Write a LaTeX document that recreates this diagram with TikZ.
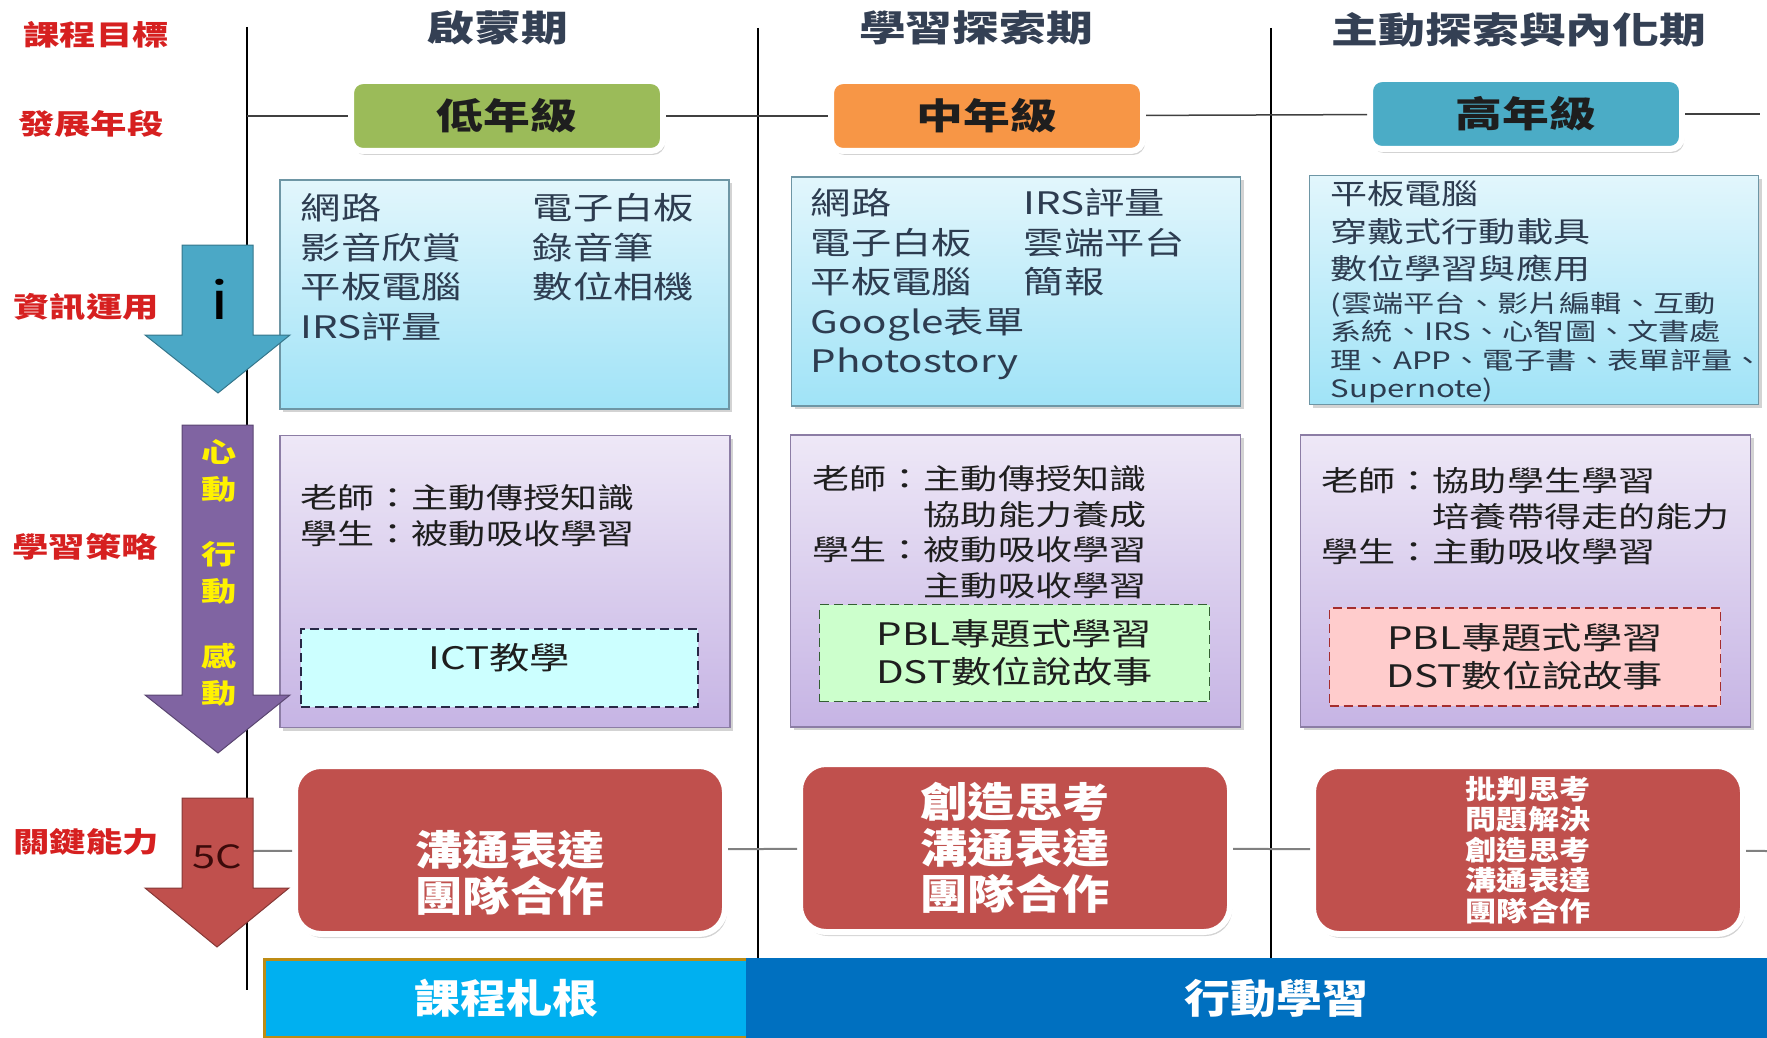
\documentclass[tikz,border=0pt]{standalone}
\usepackage{fontspec}
\setmainfont{Noto Sans CJK TC}[FakeStretch=1.3]
\newfontfamily\tallfont{Noto Sans CJK TC}[FakeStretch=1.15]
\usetikzlibrary{shadows}
\tikzset{every picture/.style={line width=1.5pt}}

\definecolor{rowred}{RGB}{214,32,32}
\definecolor{headgray}{RGB}{52,64,84}
\definecolor{lowgreen}{RGB}{155,187,89}
\definecolor{midorange}{RGB}{247,150,70}
\definecolor{highteal}{RGB}{75,172,198}
\definecolor{skillred}{RGB}{192,80,77}
\definecolor{infotop}{RGB}{226,246,252}
\definecolor{infobot}{RGB}{160,227,247}
\definecolor{infoedge}{RGB}{110,150,165}
\definecolor{infoink}{RGB}{45,60,80}
\definecolor{stratop}{RGB}{238,232,247}
\definecolor{strabot}{RGB}{198,180,228}
\definecolor{stratedge}{RGB}{140,125,165}
\definecolor{stratink}{RGB}{30,30,30}
\definecolor{ictcyan}{RGB}{204,255,255}
\definecolor{pblgreen}{RGB}{204,255,204}
\definecolor{pblpink}{RGB}{255,204,204}
\definecolor{greenink}{RGB}{50,95,50}
\definecolor{redink}{RGB}{165,45,45}
\definecolor{dashink}{RGB}{40,40,70}
\definecolor{arrowblue}{RGB}{75,168,198}
\definecolor{arrowpurple}{RGB}{128,100,162}
\definecolor{fivecink}{RGB}{60,10,10}
\definecolor{rootblue}{RGB}{0,176,240}
\definecolor{mobileblue}{RGB}{0,112,192}
\definecolor{rootgold}{RGB}{190,140,20}

\tikzset{
  rowlabel/.style={text=rowred,font=\fontsize{28}{30}\selectfont\bfseries},
  stagehead/.style={text=headgray,font=\fontsize{36}{40}\selectfont\bfseries},
  gradebox/.style={draw=white,line width=6pt,rounded corners=12pt,minimum width=312pt,minimum height=70pt,
    text=stratink,font=\fontsize{36}{40}\selectfont\bfseries,
    drop shadow={shadow xshift=2pt,shadow yshift=-4pt,opacity=0.35}},
  infobox/.style={draw=infoedge,line width=1.2pt,top color=infotop,bottom color=infobot,
    minimum width=449pt,minimum height=229pt,drop shadow={shadow xshift=3pt,shadow yshift=-3pt,opacity=0.35}},
  stratbox/.style={draw=stratedge,line width=1.2pt,top color=stratop,bottom color=strabot,
    minimum width=450pt,minimum height=292pt,drop shadow={shadow xshift=3pt,shadow yshift=-3pt,opacity=0.35}},
  infotext/.style={anchor=north west,inner sep=0pt,align=left,text=infoink,font=\fontsize{31}{39.5}\selectfont},
  strattext/.style={anchor=north west,inner sep=0pt,align=left,text=stratink,font=\fontsize{28.5}{35.5}\selectfont},
  dashbox/.style={dashed,dash pattern=on 9pt off 5pt,line width=1.5pt,align=center,text=stratink,
    font=\fontsize{31}{38}\selectfont},
  skillbox/.style={fill=skillred,draw=white,line width=6pt,rounded corners=26pt,minimum width=430pt,
    minimum height=168pt,align=center,text=white,drop shadow={shadow xshift=2pt,shadow yshift=-4pt,opacity=0.35}},
  bigskill/.style={font=\tallfont\fontsize{41}{46}\selectfont\bfseries},
  gridline/.style={draw=black,line width=1.5pt},
  rowline/.style={draw=black!75,line width=1.5pt},
  skillline/.style={draw=black!50,line width=2pt},
}

\begin{document}
\begin{tikzpicture}[x=1pt,y=1pt,yscale=-1,xscale=1]
	\useasboundingbox (0,0) rectangle (1767,1038);
	
	% column rules
	\coordinate (v1top) at (247,27);
	\coordinate (v1bot) at (247,990);
	\coordinate (v2top) at (758,28);
	\coordinate (v2bot) at (758,958);
	\coordinate (v3top) at (1271,28);
	\coordinate (v3bot) at (1271,958);
	\draw [gridline] (v1top) -- (v1bot);
	\draw [gridline] (v2top) -- (v2bot);
	\draw [gridline] (v3top) -- (v3bot);
	
	% Text Node: row labels
	\node [rowlabel] (goal) at (96,35) {課程目標};
	\node [rowlabel] (age) at (91,124) {發展年段};
	\node [rowlabel] (ict) at (86,307) {資訊運用};
	\node [rowlabel] (strategy) at (85,547) {學習策略};
	\node [rowlabel] (skill) at (86,842) {關鍵能力};
	
	% Text Node: stage titles
	\node [stagehead] (h1) at (498,28) {啟蒙期};
	\node [stagehead] (h2) at (976,28) {學習探索期};
	\node [stagehead] (h3) at (1519,30) {主動探索與內化期};
	
	%Shape: grade boxes
	\node [gradebox,fill=lowgreen] (g1) at (507,116) {低年級};
	\node [gradebox,fill=midorange] (g2) at (987,116) {中年級};
	\node [gradebox,fill=highteal] (g3) at (1526,114) {高年級};
	\coordinate (rowage) at (247,116);
	\coordinate (rowageend) at (1760,114);
	\draw [rowline] (rowage) -- (g1);
	\draw [rowline] (g1) -- (g2);
	\draw [rowline] (g2) -- (g3);
	\draw [rowline] (g3) -- (rowageend);
	
	%Shape: ICT boxes
	\node [infobox] (b1) at (504.5,294.5) {};
	\node [infobox] (b2) at (1016,291.5) {};
	\node [infobox] (b3) at (1534,290) {};
	\node [infotext] (b1l) at (300,193) {網路\\影音欣賞\\平板電腦\\IRS評量};
	\node [infotext] (b1r) at (532,193) {電子白板\\錄音筆\\數位相機};
	\node [infotext] (b2l) at (810,188) {網路\\電子白板\\平板電腦\\Google表單\\Photostory};
	\node [infotext] (b2r) at (1023,188) {IRS評量\\雲端平台\\簡報};
	\node [infotext,font=\fontsize{28.5}{37.5}\selectfont] (b3a) at (1330,180) {平板電腦\\穿戴式行動載具\\數位學習與應用};
	\node [infotext,font=\fontsize{24}{28.5}\selectfont] (b3b) at (1330,291) {(雲端平台、影片編輯、互動\\系統、IRS、心智圖、文書處\\理、APP、電子書、表單評量、\\Supernote)};
	
	%Shape: strategy boxes
	\node [stratbox] (s1) at (505,581.5) {};
	\node [stratbox] (s2) at (1015.5,581) {};
	\node [stratbox] (s3) at (1525.5,581) {};
	\node [strattext] (s1t) at (300,484) {老師：主動傳授知識\\學生：被動吸收學習};
	\node [strattext] (s2t) at (812,465) {老師：主動傳授知識\\\phantom{老師：}協助能力養成\\學生：被動吸收學習\\\phantom{老師：}主動吸收學習};
	\node [strattext] (s3t) at (1321,467) {老師：協助學生學習\\\phantom{老師：}培養帶得走的能力\\學生：主動吸收學習};
	\node [dashbox,draw=dashink,fill=ictcyan,minimum width=397pt,minimum height=78pt,text height=27pt,text depth=25pt] (d1) at (499.5,668) {ICT教學};
	\node [dashbox,draw=greenink,fill=pblgreen,minimum width=390pt,minimum height=97pt] (d2) at (1014.5,653) {PBL專題式學習\\DST數位說故事};
	\node [dashbox,draw=redink,fill=pblpink,minimum width=391pt,minimum height=98pt] (d3) at (1525,657) {PBL專題式學習\\DST數位說故事};
	
	%Shape: key skill boxes
	\node [skillbox,bigskill] (r1) at (510,850) {\phantom{溝}\\溝通表達\\團隊合作};
	\node [skillbox,bigskill] (r2) at (1015,848) {創造思考\\溝通表達\\團隊合作};
	\node [skillbox,font=\tallfont\fontsize{27}{30.5}\selectfont\bfseries] (r3) at (1528,850) {批判思考\\問題解決\\創造思考\\溝通表達\\團隊合作};
	\coordinate (rowskill) at (253,851);
	\coordinate (rowskillend) at (1767,851);
	\draw [skillline] (rowskill) -- (r1);
	\draw [skillline] (r1) -- (r2);
	\draw [skillline] (r2) -- (r3);
	\draw [skillline] (r3) -- (rowskillend);
	
	%Shape: side arrows
	\draw [draw=arrowblue!70!black,line width=1pt,fill=arrowblue] (182,245) -- (253,245) -- (253,335) -- (290,335) -- (218,393) -- (145,335) -- (182,335) -- cycle;
	\draw [draw=arrowpurple!70!black,line width=1pt,fill=arrowpurple] (182,425) -- (253,425) -- (253,695) -- (290,695) -- (218,753) -- (145,695) -- (182,695) -- cycle;
	\draw [draw=skillred!70!black,line width=1pt,fill=skillred] (182,798) -- (253,798) -- (253,888) -- (289,888) -- (217,947) -- (145,888) -- (182,888) -- cycle;
	\node [font=\fontsize{52}{52}\selectfont] (infoi) at (220,299) {i};
	\node [align=center,text=yellow,font=\fontsize{27}{37}\selectfont\bfseries] (heart) at (219,573) {心\\動\\[28pt]行\\動\\[28pt]感\\動};
	\node [text=fivecink,font=\fontsize{32}{32}\selectfont] (fivec) at (217,857) {5C};
	
	%Shape: bottom bars
	\node [draw=rootgold,line width=3pt,fill=rootblue,minimum width=483pt,minimum height=78pt,text=white,
	  font=\tallfont\fontsize{40}{40}\selectfont\bfseries] (root) at (506,998) {課程札根};
	\node [fill=mobileblue,minimum width=1021pt,minimum height=80pt,text=white,
	  font=\tallfont\fontsize{40}{40}\selectfont\bfseries] (mobile) at (1256.5,998) {\hspace*{40pt}行動學習};
\end{tikzpicture}
\end{document}
